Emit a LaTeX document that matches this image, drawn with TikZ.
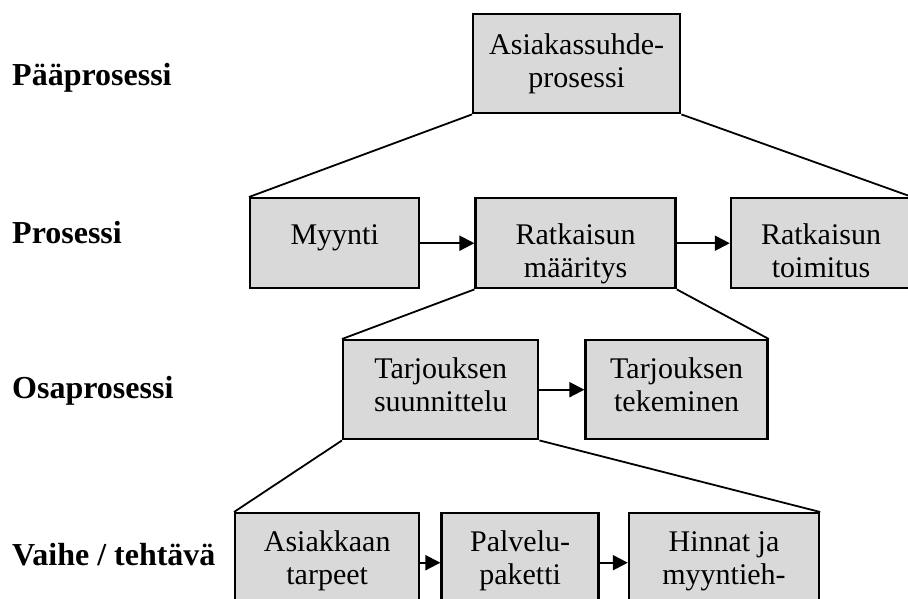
\documentclass[tikz,border=0pt]{standalone}
\usepackage{fontspec}
\setmainfont{Liberation Serif}
\usetikzlibrary{arrows.meta,positioning}
\definecolor{ink}{HTML}{000000}
\definecolor{boxgray}{HTML}{D9D9D9}
\tikzset{
  procbox/.style={draw=ink,fill=boxgray,line width=2.4pt,inner sep=0pt,align=center,anchor=north west,text=ink},
  % height above and below the last baseline
  boxsize/.style 2 args={text height=#1,text depth=#2},
  flow/.style={-{Triangle[length=15pt,width=15pt]},line width=2pt,draw=ink},
  link/.style={line width=1.8pt,draw=ink},
  level/.style={font=\fontsize{32pt}{35pt}\selectfont\bfseries,anchor=base west,inner sep=0pt,text=ink}
}

\begin{document}
\begin{tikzpicture}[x=1pt,y=-1pt,font=\fontsize{30pt}{33pt}\selectfont]
  \useasboundingbox (0,0) rectangle (908,598);

  % Levels on the left.
  \node[level] (lvlmain) at (12,85) {Pääprosessi};
  \node[level] (lvlproc) at (12,243) {Prosessi};
  \node[level] (lvlsub) at (12,398) {Osaprosessi};
  \node[level] (lvltask) at (12,565) {Vaihe / tehtävä};

  \node[procbox,boxsize={73pt}{26pt},minimum width=207pt] (main) at (472,13) {Asiakassuhde-\\prosessi};

  \node[procbox,boxsize={46pt}{44pt},minimum width=169pt] (myynti) at (249,197) {Myynti};
  \node[procbox,boxsize={79pt}{11pt},minimum width=200pt,right=54pt of myynti] (maaritys) {Ratkaisun\\määritys};
  \node[procbox,boxsize={79pt}{11pt},minimum width=180pt,right=53pt of maaritys] (toimitus) {Ratkaisun\\toimitus};

  \node[procbox,boxsize={71pt}{28pt},minimum width=195pt] (suunnittelu) at (342,339) {Tarjouksen\\suunnittelu};
  \node[procbox,boxsize={71pt}{28pt},minimum width=182pt,right=45pt of suunnittelu] (tekeminen) {Tarjouksen\\tekeminen};

  \node[procbox,boxsize={71pt}{28pt},minimum width=184pt] (tarpeet) at (234,512) {Asiakkaan\\tarpeet};
  \node[procbox,boxsize={71pt}{28pt},minimum width=157pt,right=20pt of tarpeet] (paketti) {Palvelu-\\paketti};
  \node[procbox,boxsize={71pt}{28pt},minimum width=190pt,right=28pt of paketti] (hinnat) {Hinnat ja\\myyntieh-};

  \draw[link] (main.south west) -- (myynti.north west);
  \draw[link] (main.south east) -- (toimitus.north east);
  \draw[link] (maaritys.south west) -- (suunnittelu.north west);
  \draw[link] (maaritys.south east) -- (tekeminen.north east);
  \draw[link] (suunnittelu.south west) -- (tarpeet.north west);
  \draw[link] (suunnittelu.south east) -- (hinnat.north east);

  \draw[flow] (myynti.east) -- (maaritys.west);
  \draw[flow] (maaritys.east) -- (toimitus.west);
  \draw[flow] (suunnittelu.east) -- (tekeminen.west);
  \draw[flow] (tarpeet.east) -- (paketti.west);
  \draw[flow] (paketti.east) -- (hinnat.west);
\end{tikzpicture}
\end{document}
